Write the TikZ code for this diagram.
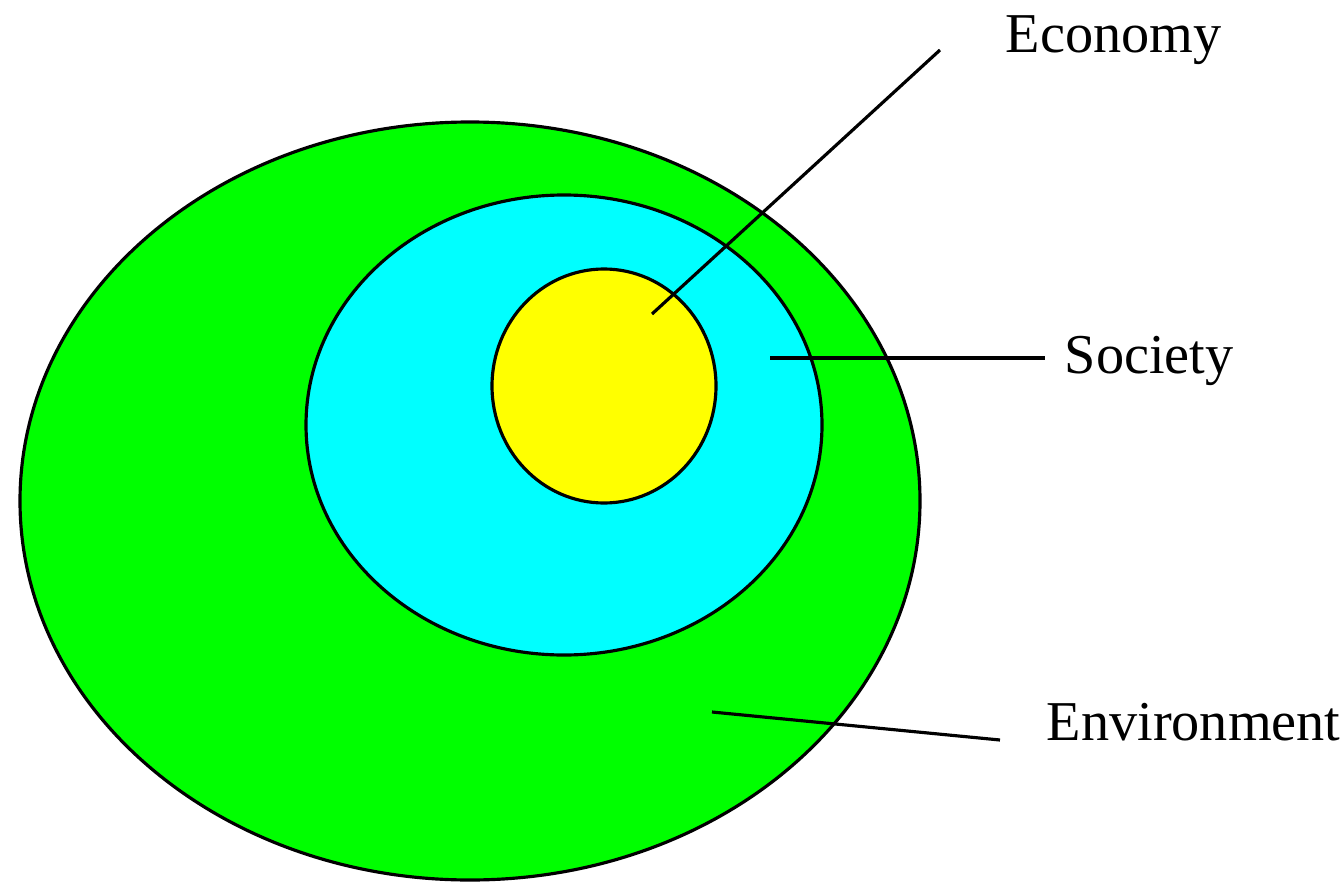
\documentclass[tikz,border=0pt]{standalone}
\usepackage{fontspec}
\setmainfont{Liberation Serif}
\usepackage{tikz}
\usetikzlibrary{positioning}

\begin{document}
\begin{tikzpicture}[
  x=0.01cm, y=-0.01cm,
  zone/.style={draw=black, line width=0.9pt},
  tag/.style={inner sep=0pt, anchor=base west, font=\fontsize{16}{19}\selectfont},
  lead/.style={draw=black, line width=0.9pt},
]
\useasboundingbox (0,0) rectangle (1343,882);
% nested spheres
\path[zone, fill={rgb,255:red,0;green,255;blue,0}] (470,501) ellipse [x radius=450, y radius=379];
\path[zone, fill={rgb,255:red,0;green,255;blue,255}] (564,425) ellipse [x radius=258, y radius=230];
\path[zone, fill={rgb,255:red,255;green,255;blue,0}] (604,386) ellipse [x radius=112, y radius=117];
% labels
\node[tag] (economy) at (1005,53) {Economy};
\node[tag] (society) at (1064,373) {Society};
\node[tag] (environment) at (1046,740) {Environment};
% leader lines
\coordinate (ecoin) at (652,314);
\coordinate (ecoout) at (940,50);
\coordinate (socin) at (770,358);
\coordinate (envin) at (712,712);
\coordinate (envout) at (1000,740);
\draw[lead] (ecoin) -- (ecoout);
\draw[lead, shorten >=0.19cm] (socin) -- (socin -| society.west);
\draw[lead] (envin) -- (envout);
\end{tikzpicture}
\end{document}
